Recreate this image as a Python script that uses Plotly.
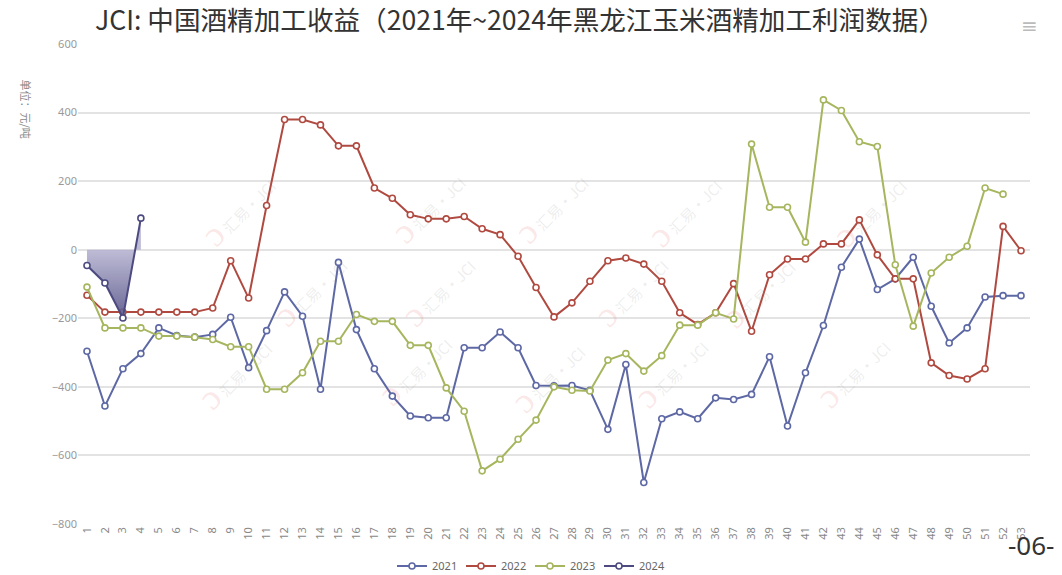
import plotly.graph_objects as go

# Week numbers 1..53
weeks = [str(i) for i in range(1, 54)]

# Heilongjiang corn-ethanol processing margin, yuan/ton, by week
y2021 = [-296, -456, -347, -303, -228, -250, -255, -247, -197, -344,
         -236, -123, -194, -407, -37, -233, -347, -427, -485, -490,
         -490, -286, -286, -240, -286, -396, -397, -396, -410, -524,
         -335, -679, -493, -473, -493, -432, -437, -422, -312, -514,
         -359, -221, -51, 31, -116, -85, -22, -165, -272, -228,
         -138, -134, -134]
y2022 = [-133, -182, -182, -182, -182, -182, -182, -170, -32, -141,
         129, 380, 380, 364, 303, 303, 180, 150, 102, 90,
         90, 97, 61, 44, -19, -110, -196, -155, -92, -32,
         -24, -42, -92, -184, -218, -184, -99, -238, -73, -27,
         -27, 17, 17, 87, -15, -85, -85, -330, -367, -377,
         -347, 68, -3]
y2023 = [-109, -228, -228, -228, -252, -252, -255, -262, -283, -283,
         -407, -407, -359, -267, -267, -189, -209, -209, -279, -279,
         -403, -471, -645, -611, -553, -497, -400, -410, -412, -322,
         -303, -354, -309, -220, -220, -184, -202, 308, 124, 124,
         22, 437, 406, 315, 301, -44, -223, -68, -22, 10,
         180, 162]
y2024 = [-46, -97, -199, 92]

series_names = ["2021", "2022", "2023", "2024"]
line_colors = ["#5d68a4", "#b04a40", "#a6b65e", "#4c4a80"]

# plot area in pixels
L, R, T, B = 78, 1030, 44, 524
W, H = R - L, B - T


def px(x):
    return (x - L) / W


def py(y):
    return (B - y) / H


def marker(color):
    return dict(symbol="circle", size=6, color="white",
                line=dict(color=color, width=1.6))


fig = go.Figure()

for name, vals, color in zip(series_names, [y2021, y2022, y2023], line_colors[:3]):
    fig.add_trace(go.Scatter(
        x=weeks[:len(vals)], y=vals, name=name, mode="lines+markers",
        line=dict(color=color, width=2), marker=marker(color),
    ))

# 2024 drawn as an area against the zero line
fig.add_trace(go.Scatter(
    x=weeks[:len(y2024)], y=y2024, name="2024", mode="lines+markers",
    line=dict(color=line_colors[3], width=2), marker=marker(line_colors[3]),
    fill="tozeroy",
    fillgradient=dict(type="vertical", start=-200, stop=0,
                      colorscale=[[0, "rgba(90,86,138,0.92)"],
                                  [1, "rgba(178,176,206,0.85)"]]),
    showlegend=False,
))
# legend entry for 2024 (line + marker only)
fig.add_trace(go.Scatter(
    x=[None], y=[None], name="2024", mode="lines+markers",
    line=dict(color=line_colors[3], width=2), marker=marker(line_colors[3]),
))

# Faint "汇易 JCI" watermark tiles
wm_positions = [(183, 155), (373, 152), (548, 152), (733, 155), (918, 155),
                (255, 287), (435, 287), (628, 287), (807, 288),
                (180, 422), (360, 418), (545, 425), (720, 420), (902, 420)]
annotations = []
for wx, wy in wm_positions:
    annotations.append(dict(
        xref="paper", yref="paper", x=px(wx), y=py(wy),
        text="<span style='color:rgba(232,110,110,0.18);font-size:36px'>ɔ</span>"
             "<span style='color:rgba(150,150,150,0.17)'> 汇易·JCI</span>",
        showarrow=False, textangle=-45,
        font=dict(size=15, family="Noto Sans CJK SC"),
    ))

# Unit label on the y axis
annotations.append(dict(
    xref="paper", yref="paper", x=px(15), y=py(77),
    text="单位：元/吨", showarrow=False, textangle=90,
    font=dict(size=11, color="#888", family="Noto Sans CJK SC"),
))
# Toolbox icon
annotations.append(dict(
    xref="paper", yref="paper", x=px(1040), y=py(12),
    text="≡", showarrow=False,
    font=dict(size=20, color="#bbb", family="DejaVu Sans"),
))
# Page number
annotations.append(dict(
    xref="paper", yref="paper", x=px(1057), y=py(565),
    xanchor="right", text="-06-", showarrow=False,
    font=dict(size=26, color="#333", family="Noto Sans"),
))

fig.update_layout(
    width=1062, height=575,
    margin=dict(l=L, r=1062 - R, t=T, b=575 - B, autoexpand=False),
    paper_bgcolor="white", plot_bgcolor="white",
    title=dict(text="JCI: 中国酒精加工收益（2021年~2024年黑龙江玉米酒精加工利润数据）",
               x=520 / 1062, xanchor="center", y=1 - 21 / 575, yanchor="middle",
               font=dict(size=26.6, color="#333", family="Noto Sans CJK SC")),
    showlegend=True,
    legend=dict(orientation="h", x=px(392), xanchor="left",
                y=py(566), yanchor="middle",
                font=dict(size=11, color="#666", family="Noto Sans"),
                itemwidth=30, entrywidth=24, tracegroupgap=0),
    hovermode=False,
    annotations=annotations,
)

fig.update_xaxes(
    type="category", range=[-0.5, 52.5], automargin=False,
    showgrid=False, zeroline=False, showline=False,
    tickangle=-90, ticks="",
    tickfont=dict(size=11, color="#888", family="Noto Sans"),
)
fig.update_yaxes(
    range=[-800, 600], automargin=False,
    tickvals=[-800, -600, -400, -200, 0, 200, 400, 600],
    showgrid=True, gridcolor="#e3e3e3", gridwidth=1.5, zeroline=False,
    showline=False, ticks="",
    tickfont=dict(size=11, color="#999", family="Noto Sans"),
)

fig.write_html("out.html")
